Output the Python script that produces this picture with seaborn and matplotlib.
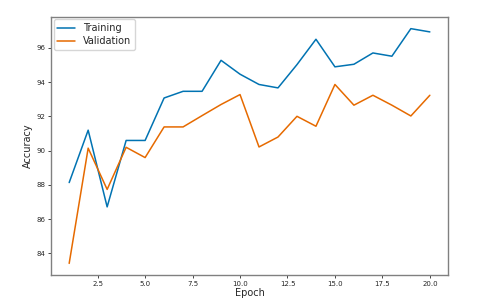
import matplotlib
matplotlib.use("Agg")
import matplotlib.pyplot as plt
import pandas as pd
import seaborn as sns

epochs = list(range(1, 21))
train_acc = [88.14, 91.2, 86.72, 90.6, 90.6, 93.08, 93.47, 93.47, 95.28, 94.47,
             93.87, 93.67, 95.03, 96.51, 94.9, 95.05, 95.71, 95.52, 97.13, 96.94]
val_acc = [83.42, 90.15, 87.74, 90.2, 89.6, 91.39, 91.39, 92.05, 92.7, 93.28,
           90.22, 90.8, 92.01, 91.43, 93.87, 92.66, 93.24, 92.66, 92.03, 93.24]
series_names = ["Training", "Validation"]
colors = ["#0173B2", "#E66A00"]

df = pd.concat(
    [
        pd.DataFrame({"Epoch": epochs, "Accuracy": train_acc, "set": series_names[0]}),
        pd.DataFrame({"Epoch": epochs, "Accuracy": val_acc, "set": series_names[1]}),
    ],
    ignore_index=True,
)

sns.set_style("white")
plt.rcParams["font.family"] = ["DejaVu Sans"]

fig = plt.figure(figsize=(4.78, 3.02), dpi=100)
ax = fig.add_axes([0.107, 0.089, 0.830, 0.855])

sns.lineplot(
    data=df,
    x="Epoch",
    y="Accuracy",
    hue="set",
    hue_order=series_names,
    palette=colors,
    linewidth=1.1,
    ax=ax,
)

ax.set_xticks([2.5, 5.0, 7.5, 10.0, 12.5, 15.0, 17.5, 20.0])
ax.set_yticks([84, 86, 88, 90, 92, 94, 96])
ax.tick_params(axis="both", labelsize=5, length=2, width=0.6, pad=2, left=True, bottom=True)
ax.set_xlabel("Epoch", fontsize=7, labelpad=1)
ax.set_ylabel("Accuracy", fontsize=7, labelpad=3)
for spine in ax.spines.values():
    spine.set_color("#808080")
    spine.set_linewidth(1.0)

leg = ax.legend(loc="upper left", fontsize=7, frameon=True, handlelength=1.8,
                borderpad=0.4, labelspacing=0.3, borderaxespad=0.25)
leg.get_frame().set_edgecolor("#cccccc")

fig.savefig("out.png", dpi=100)
